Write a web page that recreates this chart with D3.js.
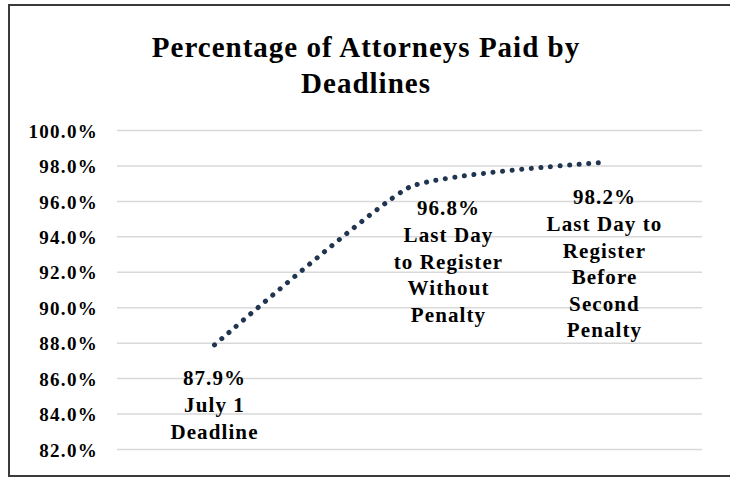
<!DOCTYPE html>
<html>
<head>
<meta charset="utf-8">
<script src="https://cdn.jsdelivr.net/npm/d3@7"></script>
<style>
  html, body { margin: 0; padding: 0; background: #fff; }
  svg { display: block; }
</style>
</head>
<body>
<svg id="chart" width="730" height="479"></svg>
<script>
const title = ["Percentage of Attorneys Paid by", "Deadlines"];
const categories = ["July 1 Deadline", "Last Day to Register Without Penalty", "Last Day to Register Before Second Penalty"];
const values = [87.9, 96.8, 98.2];
const labelLines = [
  ["87.9%", "July 1", "Deadline"],
  ["96.8%", "Last Day", "to Register", "Without", "Penalty"],
  ["98.2%", "Last Day to", "Register", "Before", "Second", "Penalty"]
];
const yTicks = [82, 84, 86, 88, 90, 92, 94, 96, 98, 100];

(function () {
const svg = d3.select("#chart");
const font = "'Liberation Serif', 'Times New Roman', serif";

// frame
svg.append("rect").attr("x", 9).attr("y", 5).attr("width", 730).attr("height", 471)
  .attr("fill", "#fff").attr("stroke", "#3a3a3a").attr("stroke-width", 2);

// title
svg.append("text").attr("font-family", font).attr("font-weight", "bold").attr("font-size", 29)
  .attr("letter-spacing", 1).attr("text-anchor", "middle").attr("fill", "#000")
  .selectAll("tspan").data(title).join("tspan")
  .attr("x", 366).attr("y", (d, i) => 57 + i * 36).text(d => d);

const pLeft = 117, pRight = 702, pTop = 130.5, pBottom = 449.5;
const x = d3.scaleBand().domain(categories).range([pLeft, pRight]);
const y = d3.scaleLinear().domain([82, 100]).range([pBottom, pTop]);

// grid
svg.append("g").selectAll("line").data(yTicks).join("line")
  .attr("x1", pLeft).attr("x2", pRight)
  .attr("y1", d => y(d)).attr("y2", d => y(d))
  .attr("stroke", "#d9d9d9").attr("stroke-width", 1.5);

// y axis labels
const yAxis = d3.axisLeft(y).tickValues(yTicks).tickSize(0).tickPadding(0)
  .tickFormat(d => d3.format(".1f")(d) + "%");
const ga = svg.append("g").attr("transform", "translate(98,0)").call(yAxis);
ga.select(".domain").remove();
ga.selectAll("text").attr("font-family", font).attr("font-weight", "bold")
  .attr("font-size", 19).attr("letter-spacing", 1.3).attr("fill", "#000").attr("dy", "0.35em");

// line
const pts = categories.map((c, i) => [x(c) + x.bandwidth() / 2, y(values[i])]);
const line = d3.line().curve(d3.curveCardinal.tension(0.55));
svg.append("path").attr("d", line(pts))
  .attr("fill", "none").attr("stroke", "#203550").attr("stroke-width", 5)
  .attr("stroke-linecap", "round").attr("stroke-dasharray", "0.1 9.5");

// data labels
const labelDx = [0, 39, 0];
const labelY0 = [378, 208, 197];
categories.forEach((c, i) => {
  svg.append("text").attr("font-family", font).attr("font-weight", "bold")
    .attr("font-size", 21).attr("letter-spacing", 1.1).attr("text-anchor", "middle").attr("fill", "#000")
    .selectAll("tspan").data(labelLines[i]).join("tspan")
    .attr("x", x(c) + x.bandwidth() / 2 + labelDx[i])
    .attr("y", (d, j) => labelY0[i] + j * 26.6)
    .attr("dy", "0.35em").text(d => d);
});
})();
</script>
</body>
</html>
